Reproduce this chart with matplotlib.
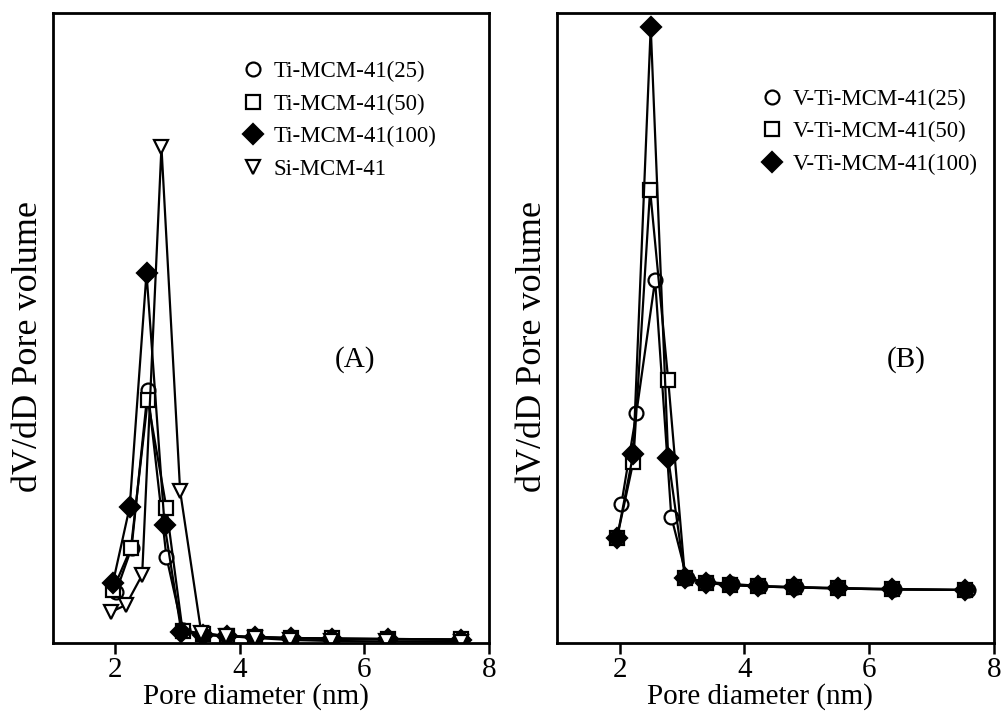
import numpy as np
import matplotlib
matplotlib.use('Agg')
import matplotlib.pyplot as plt
from matplotlib.lines import Line2D

plt.rcParams['font.family'] = ['Liberation Serif', 'DejaVu Serif']

# panel A
xa_25 = [2.01, 2.26, 2.52, 2.82, 3.08, 3.40, 3.80, 4.25, 4.82, 5.48, 6.38, 7.55]
ya_25 = [0.51, 0.95, 2.53, 0.86, 0.13, 0.09, 0.07, 0.06, 0.05, 0.045, 0.04, 0.035]
xa_50 = [1.96, 2.25, 2.52, 2.82, 3.08, 3.40, 3.80, 4.25, 4.82, 5.48, 6.38, 7.55]
ya_50 = [0.53, 0.95, 2.43, 1.35, 0.12, 0.09, 0.07, 0.06, 0.05, 0.045, 0.04, 0.035]
xa_100 = [1.96, 2.23, 2.50, 2.79, 3.06, 3.40, 3.80, 4.25, 4.82, 5.48, 6.38, 7.55]
ya_100 = [0.60, 1.36, 3.70, 1.18, 0.11, 0.08, 0.065, 0.055, 0.045, 0.04, 0.035, 0.03]
xa_si = [1.93, 2.17, 2.43, 2.74, 3.04, 3.38, 3.78, 4.25, 4.80, 5.46, 6.35, 7.55]
ya_si = [0.31, 0.38, 0.68, 4.96, 1.52, 0.10, 0.07, 0.05, 0.03, 0.02, 0.015, 0.01]
labels_a = ['Ti-MCM-41(25)', 'Ti-MCM-41(50)', 'Ti-MCM-41(100)', 'Si-MCM-41']

# panel B
xb_25 = [2.03, 2.27, 2.57, 2.83, 3.08, 3.40, 3.80, 4.25, 4.82, 5.50, 6.40, 7.58]
yb_25 = [1.39, 2.30, 3.63, 1.26, 0.65, 0.61, 0.59, 0.57, 0.56, 0.55, 0.54, 0.53]
xb_50 = [1.96, 2.22, 2.49, 2.78, 3.05, 3.38, 3.77, 4.22, 4.80, 5.50, 6.36, 7.53]
yb_50 = [1.05, 1.81, 4.53, 2.63, 0.65, 0.60, 0.58, 0.565, 0.555, 0.545, 0.535, 0.53]
xb_100 = [1.96, 2.22, 2.50, 2.78, 3.05, 3.38, 3.77, 4.22, 4.80, 5.50, 6.36, 7.53]
yb_100 = [1.05, 1.89, 6.16, 1.85, 0.65, 0.60, 0.58, 0.565, 0.555, 0.545, 0.535, 0.53]
labels_b = ['V-Ti-MCM-41(25)', 'V-Ti-MCM-41(50)', 'V-Ti-MCM-41(100)']

markers = [('o', 'white'), ('s', 'white'), ('D', 'black'), ('v', 'white')]

fig = plt.figure(figsize=(10.02, 7.2), dpi=100)
axA = fig.add_axes([0.053, 0.107, 0.435, 0.875])
axB = fig.add_axes([0.556, 0.107, 0.436, 0.875])

kw = dict(color='black', lw=1.6, ms=10, mew=1.6)
for (x, y), (m, fc) in zip([(xa_25, ya_25), (xa_50, ya_50), (xa_100, ya_100), (xa_si, ya_si)], markers):
    axA.plot(x, y, marker=m, mfc=fc, **kw)
for (x, y), (m, fc) in zip([(xb_25, yb_25), (xb_50, yb_50), (xb_100, yb_100)], markers):
    axB.plot(x, y, marker=m, mfc=fc, **kw)

for ax, tag, tx, labels, lx, ly in [(axA, '(A)', 0.693, labels_a, 0.432, 0.924),
                                    (axB, '(B)', 0.80, labels_b, 0.466, 0.880)]:
    ax.set_xlim(1, 8)
    ax.set_ylim(0, 6.3)
    ax.set_xticks([2, 4, 6, 8])
    ax.set_yticks([])
    ax.tick_params(axis='x', direction='out', length=8, width=1.8, labelsize=21, pad=2)
    for s in ax.spines.values():
        s.set_linewidth(2)
    ax.set_xlabel('Pore diameter (nm)', fontsize=21, labelpad=0, x=0.465)
    ax.set_ylabel('dV/dD Pore volume', fontsize=26, labelpad=6, y=0.47)
    ax.text(tx, 0.45, tag, transform=ax.transAxes, fontsize=21, ha='center', va='center')
    handles = [Line2D([], [], ls='none', color='black', marker=m, mfc=fc, ms=10, mew=1.6)
               for (m, fc) in markers[:len(labels)]]
    ax.legend(handles, labels, loc='upper left', bbox_to_anchor=(lx, ly), frameon=False,
              fontsize=16.5, handlelength=1.0, handletextpad=0.4, labelspacing=0.5,
              borderpad=0, borderaxespad=0)

plt.savefig('out.png', dpi=100)
